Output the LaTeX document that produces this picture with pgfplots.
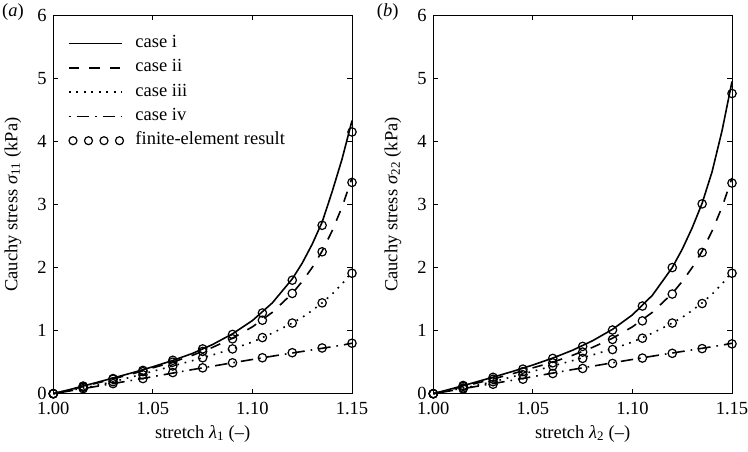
\documentclass[border=0pt]{standalone}
\usepackage{fontspec}
\setmainfont{Liberation Serif}
\usepackage{pgfplots}
\usepackage{pgfplotstable}
\pgfplotsset{compat=1.18}
\newcommand\ff{\fontsize{18.5bp}{22bp}\selectfont}

% finite-element results, panel (a) and (b)
\pgfplotstableread{
lam   i     ii     iii   iv
1.000 0     0      0     0
1.015 0.12  0.115  0.10  0.08
1.030 0.24  0.23   0.19  0.16
1.045 0.37  0.35   0.30  0.24
1.060 0.53  0.50   0.44  0.335
1.075 0.71  0.67   0.57  0.41
1.090 0.94  0.87   0.71  0.49
1.105 1.28  1.165  0.89  0.57
1.120 1.80  1.59   1.12  0.65
1.135 2.67  2.25   1.44  0.725
1.150 4.15  3.35   1.91  0.80
}\fea
\pgfplotstableread{
lam   i     ii     iii   iv
1.000 0     0      0     0
1.015 0.13  0.115  0.09  0.075
1.030 0.26  0.23   0.19  0.15
1.045 0.39  0.35   0.30  0.23
1.060 0.56  0.49   0.44  0.32
1.075 0.75  0.66   0.56  0.40
1.090 1.01  0.86   0.70  0.48
1.105 1.39  1.155  0.88  0.565
1.120 2.00  1.58   1.12  0.64
1.135 3.01  2.24   1.43  0.715
1.150 4.76  3.34   1.91  0.79
}\feb
% model curves
\pgfplotstableread{
lam   ia    ib    ii    iii   iv
1.000 0     0     0     0     0
1.010 0.08  0.085 0.075 0.06  0.053
1.020 0.163 0.172 0.153 0.12  0.107
1.030 0.248 0.262 0.233 0.19  0.16
1.040 0.335 0.355 0.318 0.27  0.215
1.050 0.427 0.455 0.41  0.355 0.27
1.060 0.527 0.565 0.50  0.44  0.327
1.070 0.64  0.69  0.61  0.525 0.383
1.080 0.78  0.84  0.735 0.615 0.437
1.090 0.95  1.02  0.88  0.71  0.49
1.100 1.16  1.25  1.06  0.82  0.543
1.110 1.44  1.56  1.29  0.96  0.595
1.120 1.82  2.00  1.59  1.12  0.645
1.125 2.07  2.29  1.78  1.21  0.67
1.130 2.37  2.63  2.00  1.32  0.695
1.135 2.72  3.02  2.26  1.44  0.72
1.140 3.20  3.52  2.58  1.58  0.745
1.145 3.72  4.17  2.96  1.74  0.77
1.150 4.33  4.95  3.42  1.93  0.80
}\curves

\tikzset{
  dashA/.style={dash pattern=on 10.5bp off 10bp},
  dotA/.style={dash pattern=on 1.7bp off 5.8bp},
  dashdotA/.style={dash pattern=on 1.6bp off 6bp on 12.5bp off 6bp},
}
\pgfplotsset{
  panel/.style={
    width=298.7bp, height=378.4bp, scale only axis, clip=false,
    xmin=1, xmax=1.15, ymin=0, ymax=6,
    xtick={1,1.05,1.1,1.15}, ytick={0,1,2,3,4,5,6},
    tick align=inside, major tick length=5bp,
    axis line style={line width=0.8bp},
    every tick/.style={black, line width=0.8bp},
    tick label style={font=\ff, /pgf/number format/assume math mode=true},
    x tick label style={inner sep=0pt, yshift=-8.5bp,
      /pgf/number format/fixed, /pgf/number format/fixed zerofill,
      /pgf/number format/precision=2},
    y tick label style={inner sep=0pt, xshift=-6.5bp},
    every axis x label/.style={at={(axis description cs:0.5,-0.1171)}, anchor=base, inner sep=0pt, font=\ff},
    every axis y label/.style={at={(axis description cs:-0.1205,0.5)}, rotate=90, anchor=base, inner sep=0pt, font=\ff},
  },
  cur/.style={black, line width=1.6bp},
  fe/.style={only marks, mark=o, mark size=4.2bp, mark options={black, line width=1.2bp, solid}, forget plot},
}

\begin{document}
\begin{tikzpicture}
\begin{axis}[panel, at={(0bp,0bp)}, anchor=south west,
  xlabel={stretch \textit{λ}\textsubscript{1} (–)},
  ylabel={Cauchy stress \textit{σ}\textsubscript{11} (kPa)},
  legend image code/.code={\draw[#1] (0bp,0bp) -- (53bp,0bp);},
  legend cell align=left,
  legend style={draw=none, fill=none, font=\ff, inner sep=0pt,
    at={(axis description cs:0,1)}, anchor=north west, xshift=14.7bp, yshift=-20bp,
    row sep=8.3bp,
    nodes={inner sep=0pt, text height=12bp, text depth=4bp},
    /tikz/every odd column/.append style={column sep=11.4bp}},
]
\addplot[cur] table[x=lam, y=ia] {\curves};
\addlegendentry{case i}
\addplot[cur, dashA] table[x=lam, y=ii] {\curves};
\addlegendentry{case ii}
\addplot[cur, dotA] table[x=lam, y=iii] {\curves};
\addlegendentry{case iii}
\addplot[cur, dashdotA] table[x=lam, y=iv] {\curves};
\addlegendentry{case iv}
\addplot[fe] table[x=lam, y=i] {\fea};
\addplot[fe] table[x=lam, y=ii] {\fea};
\addplot[fe] table[x=lam, y=iii] {\fea};
\addplot[fe] table[x=lam, y=iv] {\fea};
\addlegendimage{legend image code/.code={\foreach \xx in {4bp,19.5bp,35bp,50.5bp} {\draw[black, line width=1.2bp] (\xx,0bp) circle[radius=4bp];}}}
\addlegendentry{finite-element result}
\node[anchor=base west, inner sep=0pt, font=\ff] at (axis description cs:-0.1717,0.998) {(\textit{a})};
\end{axis}

\begin{axis}[panel, at={(380bp,0bp)}, anchor=south west,
  xlabel={stretch \textit{λ}\textsubscript{2} (–)},
  ylabel={Cauchy stress \textit{σ}\textsubscript{22} (kPa)},
]
\addplot[cur] table[x=lam, y=ib] {\curves};
\addplot[cur, dashA] table[x=lam, y=ii] {\curves};
\addplot[cur, dotA] table[x=lam, y=iii] {\curves};
\addplot[cur, dashdotA] table[x=lam, y=iv] {\curves};
\addplot[fe] table[x=lam, y=i] {\feb};
\addplot[fe] table[x=lam, y=ii] {\feb};
\addplot[fe] table[x=lam, y=iii] {\feb};
\addplot[fe] table[x=lam, y=iv] {\feb};
\node[anchor=base west, inner sep=0pt, font=\ff] at (axis description cs:-0.1895,0.998) {(\textit{b})};
\end{axis}
\pgfresetboundingbox
\path[use as bounding box] (-53.3bp,-58.3bp) rectangle (694.7bp,393.7bp);
\end{tikzpicture}
\end{document}
